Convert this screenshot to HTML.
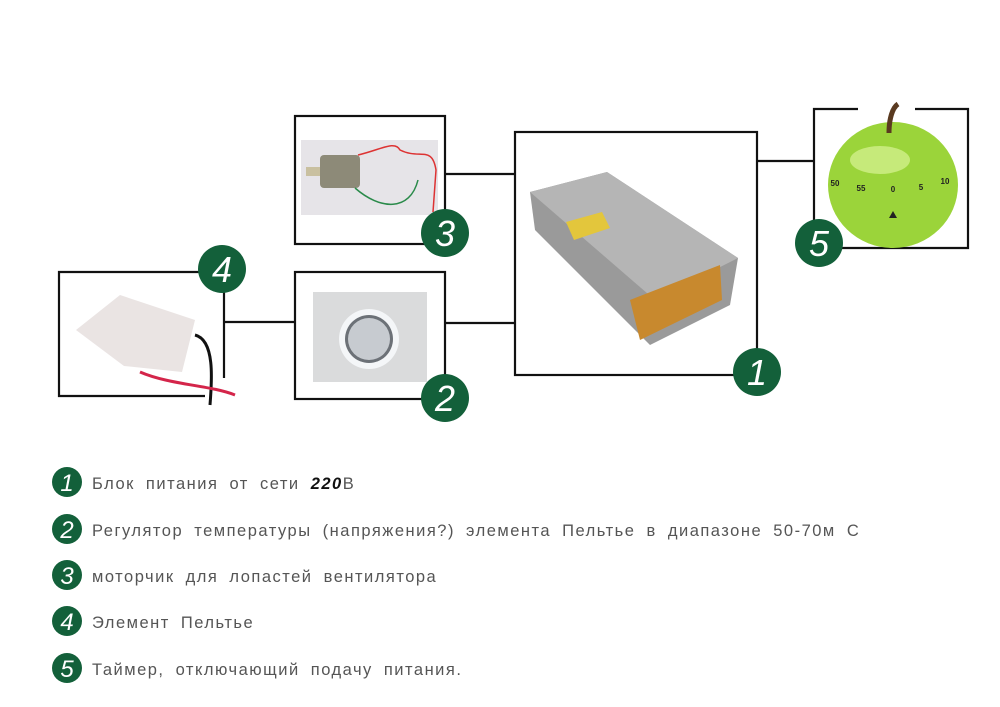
<!DOCTYPE html>
<html><head><meta charset="utf-8"><style>
body{margin:0;background:#fff;width:1000px;height:707px;overflow:hidden}
svg{display:block}
.t{font-family:"Liberation Sans",sans-serif;font-size:16.5px;fill:#555;letter-spacing:1.5px;word-spacing:5px}
.n{font-family:"Liberation Sans",sans-serif;font-style:italic;fill:#fff;text-anchor:middle}
</style></head><body>
<svg width="1000" height="707" viewBox="0 0 1000 707">
<g stroke="#111" stroke-width="2.2" fill="none">
<line x1="445" y1="174" x2="515" y2="174"/>
<line x1="445" y1="323" x2="515" y2="323"/>
<line x1="757" y1="161" x2="815" y2="161"/>
<line x1="224" y1="322" x2="295" y2="322"/>
<rect x="295" y="116" width="150" height="128"/>
<rect x="295" y="272" width="150" height="127"/>
<rect x="515" y="132" width="242" height="243"/>
<polyline points="858,109 814,109 814,248 968,248 968,109 915,109"/>
<polyline points="200,272 59,272 59,396 205,396"/>
<polyline points="224,272 224,378"/>
</g>
<rect x="301" y="140" width="137" height="75" fill="#e6e4e8"/>
<rect x="320" y="155" width="40" height="33" rx="4" fill="#8d8a78"/>
<rect x="306" y="167" width="14" height="9" fill="#c9c0a0"/>
<path d="M358 155 C380 150 395 140 400 150 C420 160 432 145 436 170 L433 212" stroke="#d33" stroke-width="1.5" fill="none"/>
<path d="M355 188 C380 210 410 212 418 180" stroke="#2a8a4a" stroke-width="1.5" fill="none"/>
<rect x="313" y="292" width="114" height="90" fill="#dadbdc"/>
<circle cx="369" cy="339" r="30" fill="#f4f6f8"/>
<circle cx="369" cy="339" r="24" fill="#6c7177"/>
<circle cx="369" cy="339" r="21" fill="#c7cbd0"/>
<polygon points="530,192 607,172 738,258 730,305 650,345 535,230" fill="#9a9a9a"/>
<polygon points="530,192 607,172 738,258 655,300" fill="#b5b5b5"/>
<polygon points="566,222 602,212 610,228 574,240" fill="#e3c63c"/>
<polygon points="630,300 720,265 722,300 640,340" fill="#c8892e"/>
<ellipse cx="893" cy="185" rx="65" ry="63" fill="#9bd43a"/>
<ellipse cx="880" cy="160" rx="30" ry="14" fill="#c6ea7a"/>
<path d="M889 133 C889 120 892 108 898 104" stroke="#5a3a20" stroke-width="5" fill="none"/>
<g font-family="Liberation Sans" font-size="8" font-weight="bold" fill="#222" text-anchor="middle">
<text x="835" y="186">50</text><text x="861" y="191">55</text><text x="893" y="192">0</text><text x="921" y="190">5</text><text x="945" y="184">10</text>
</g>
<polygon points="889,218 897,218 893,211" fill="#222"/>
<polygon points="76,330 120,295 195,320 182,372 124,366" fill="#eae4e3"/>
<path d="M195 335 C215 340 212 380 210 405" stroke="#111" stroke-width="3" fill="none"/>
<path d="M140 372 C170 385 210 385 235 395" stroke="#d4254a" stroke-width="3" fill="none"/>
<g fill="#13603a">
<circle cx="445" cy="233" r="24"/><circle cx="445" cy="398" r="24"/><circle cx="757" cy="372" r="24"/>
<circle cx="222" cy="269" r="24"/><circle cx="819" cy="243" r="24"/>
<circle cx="67" cy="482" r="15"/><circle cx="67" cy="529" r="15"/><circle cx="67" cy="575" r="15"/><circle cx="67" cy="621" r="15"/><circle cx="67" cy="668" r="15"/>
</g>
<g class="n" font-size="36">
<text x="445" y="246">3</text><text x="445" y="411">2</text><text x="757" y="385">1</text><text x="222" y="282">4</text><text x="819" y="256">5</text>
</g>
<g class="n" font-size="24">
<text x="67" y="491">1</text><text x="67" y="538">2</text><text x="67" y="584">3</text><text x="67" y="630">4</text><text x="67" y="677">5</text>
</g>
<text class="t" x="92" y="489">Блок питания от сети <tspan font-weight="bold" font-style="italic" fill="#111">220</tspan>В</text>
<text class="t" x="92" y="536">Регулятор температуры (напряжения?) элемента Пельтье в диапазоне 50-70м С</text>
<text class="t" x="92" y="582">моторчик для лопастей вентилятора</text>
<text class="t" x="92" y="628">Элемент Пельтье</text>
<text class="t" x="92" y="675">Таймер, отключающий подачу питания.</text>
</svg>
</body></html>
